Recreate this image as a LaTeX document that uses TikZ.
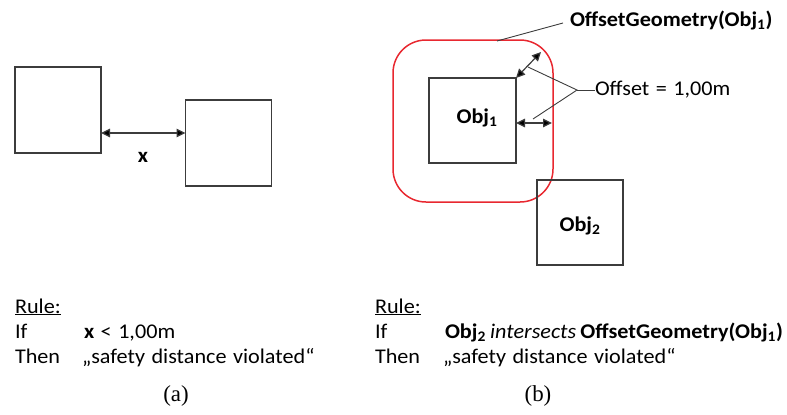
\documentclass[tikz,border=0pt]{standalone}
\usepackage{fontspec}
\setmainfont{Carlito}[FakeStretch=1.06,WordSpace={1.3,1,1}]
\newfontfamily\capfont{Liberation Serif}
\usetikzlibrary{arrows.meta,calc}
\definecolor{boxgray}{RGB}{60,60,60}
\definecolor{offred}{RGB}{232,40,48}
\begin{document}
\begin{tikzpicture}[x=1bp,y=-1bp,
  every node/.style={font=\fontsize{21}{25}\selectfont, inner sep=0pt, outer sep=0pt},
  objbox/.style={draw=boxgray, line width=1.6bp, minimum width=86bp, minimum height=86bp},
  dimarrow/.style={line width=1.2bp, draw=boxgray, {Triangle[length=9bp,width=8.5bp,fill=black]}-{Triangle[length=9bp,width=8.5bp,fill=black]}},
  leader/.style={line width=0.9bp, draw=boxgray},
  txt/.style={anchor=base west},
  caption/.style={font=\capfont\fontsize{23}{26}\selectfont, anchor=base}]
\useasboundingbox (0,0) rectangle (787,414);
% (a)
\node[objbox] (a1) at (58,110) {};
\node[objbox] (a2) at (228.5,143) {};
\coordinate (ay) at (143,133);
\draw[dimarrow] (a1.east |- ay) -- (a2.west |- ay);
\node (xl) at (143,157) {\textbf{x}};
% (b)
\node[draw=offred, line width=1.5bp, rounded corners=33bp, minimum width=160bp, minimum height=162bp] (off) at (473,121) {};
\node[objbox, minimum width=87bp, minimum height=85bp] (o1) at (472.5,120.5) {};
\node (o1l) at (477,118) {\textbf{Obj\textsubscript{1}}};
\node[objbox, minimum width=86bp, minimum height=85bp] (o2) at (580,222.5) {};
\node (o2l) at (580,226) {\textbf{Obj\textsubscript{2}}};
\coordinate (d1) at (541,52);
\draw[dimarrow] (o1.north east) -- (d1);
\coordinate (h1) at (552,123);
\draw[dimarrow] (o1.east |- h1) -- (h1);
\node[anchor=west] (offl) at (595,90) {Offset = 1,00m};
\coordinate (j) at (577,90);
\coordinate (l1) at (528,67);
\coordinate (l2) at (533,119);
\draw[leader] (l1) -- (j) -- (l2);
\draw[leader] (j) -- (offl.west);
\node[anchor=west] (ogl) at (570,20) {\textbf{OffsetGeometry(Obj\textsubscript{1})}};
\coordinate (g1) at (497,41);
\draw[leader] (g1) -- ($(ogl.west)+(-7,3)$);
% rules
\node[txt] (ra) at (15,313) {\underline{Rule:}};
\node[txt] (ia) at (15,338) {If};
\node[txt] (ca) at (84,338) {\textbf{x} < 1,00m};
\node[txt] (ta) at (15,363) {Then};
\node[txt] (sa) at (82,363) {„safety distance violated“};
\node[caption] (capa) at (176,401) {(a)};
\node[txt] (rb) at (375,313) {\underline{Rule:}};
\node[txt] (ib) at (375,338) {If};
\node[txt] (cb) at (445,338) {\textbf{Obj\textsubscript{2}}\hspace{0.2em}\textit{intersects}\hspace{0.2em}\textbf{OffsetGeometry(Obj\textsubscript{1})}};
\node[txt] (tb) at (375,363) {Then};
\node[txt] (sb) at (443,363) {„safety distance violated“};
\node[caption] (capb) at (538,401) {(b)};
\end{tikzpicture}
\end{document}
